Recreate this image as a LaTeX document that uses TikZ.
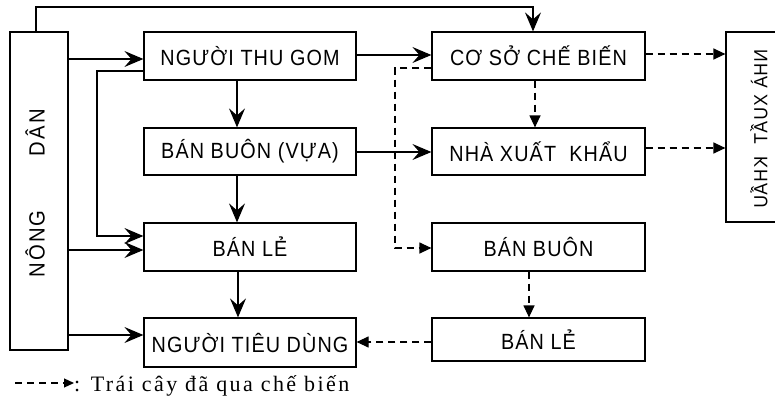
\documentclass[tikz,border=0pt]{standalone}
\usepackage{fontspec}
\setmainfont{Liberation Sans}
\newfontfamily\boxfont[LetterSpace=5,FakeStretch=0.9]{Liberation Sans}
\newfontfamily\sidefont[LetterSpace=10,FakeStretch=0.92]{Liberation Sans}
\newfontfamily\xkfont[LetterSpace=6,FakeStretch=0.92]{Liberation Sans}
\newfontfamily\legfont[LetterSpace=11]{Liberation Serif}
\usetikzlibrary{arrows.meta}
\begin{document}
\begin{tikzpicture}[x=1pt,y=-1pt,
  box/.style={draw, line width=1.2pt, inner sep=0pt, minimum width=212pt, minimum height=48pt,
    font=\boxfont\fontsize{22pt}{26pt}\selectfont},
  arr/.style={line width=1.2pt, -{Stealth[length=19pt,width=16pt,inset=7pt]}},
  darr/.style={line width=1.2pt, dash pattern=on 7pt off 5pt, -{Triangle[length=12pt,width=11pt]}}]
\useasboundingbox (0,0) rectangle (775,401);
\clip (0,0) rectangle (775,401);
% left column
\node[box, minimum width=58pt, minimum height=318pt] (nd) at (39,191) {};
\node[rotate=90, inner sep=0pt, font=\sidefont\fontsize{22pt}{24pt}\selectfont] (ndt) at (35,193.5) {NÔNG\hspace{54pt}DÂN};
\node[box] (thugom) at (250,56) {NGƯỜI THU GOM};
\node[box, minimum height=47pt] (vua) at (250,151.5) {BÁN BUÔN (VỰA)};
\node[box] (banle1) at (250,247) {BÁN LẺ};
\node[box, minimum height=49pt] (ntd) at (250,342.5) {NGƯỜI TIÊU DÙNG};
% right column
\node[box, minimum width=213pt] (csch) at (538.5,56) {CƠ SỞ CHẾ BIẾN};
\node[box, minimum width=213pt, minimum height=47pt] (nxk) at (538.5,151.5) {NHÀ XUẤT\ \ KHẨU};
\node[box, minimum width=213pt] (banbuon) at (538.5,247) {BÁN BUÔN};
\node[box, minimum width=213pt, minimum height=43pt] (banle2) at (538.5,339.5) {BÁN LẺ};
\node[box, minimum width=80pt, minimum height=190pt] (xk) at (766,127) {};
\node[rotate=90, inner sep=0pt, font=\xkfont\fontsize{19pt}{22pt}\selectfont] (xkt) at (759,129) {\reflectbox{NHÀ XUẤT\ \ KHẨU}};
% solid connectors
\draw[arr] (nd.north -| 36,0) |- (300,7) -| (csch.north -| 533,0);
\draw[arr] (nd.east |- 0,59) -- (thugom.west |- 0,59);
\draw[arr] (thugom.west |- 0,71) -| (97,236) -- (banle1.west |- 0,236);
\draw[arr] (thugom.south -| 237,0) -- (vua.north -| 237,0);
\draw[arr] (vua.south -| 237,0) -- (banle1.north -| 237,0);
\draw[arr] (nd.east |- 0,250) -- (banle1.west |- 0,250);
\draw[arr] (banle1.south -| 238,0) -- (ntd.north -| 238,0);
\draw[arr] (nd.east |- 0,335) -- (ntd.west |- 0,335);
\draw[arr] (thugom.east |- 0,55) -- (csch.west |- 0,55);
\draw[arr] (vua.east |- 0,152) -- (nxk.west |- 0,152);
% dashed connectors
\draw[darr] (csch.west |- 0,68) -| (395,248) -- (banbuon.west |- 0,248);
\draw[darr] (csch.south -| 535,0) -- (nxk.north -| 535,0);
\draw[darr] (banbuon.south -| 529,0) -- (banle2.north -| 529,0);
\draw[darr] (banle2.west |- 0,342) -- (ntd.east |- 0,342);
\draw[darr] (csch.east |- 0,54) -- (xk.west |- 0,54);
\draw[darr] (nxk.east |- 0,148) -- (xk.west |- 0,148);
% legend
\coordinate (l1) at (15,383);
\node[anchor=base west, inner sep=0pt, font=\legfont\fontsize{22pt}{24pt}\selectfont] (leg) at (74,391) {: Trái cây đã qua chế biến};
\draw[line width=1.2pt, dash pattern=on 7pt off 5pt, -{Triangle[length=10pt,width=9pt]}] (l1) -- (leg.west |- l1);
\end{tikzpicture}
\end{document}
